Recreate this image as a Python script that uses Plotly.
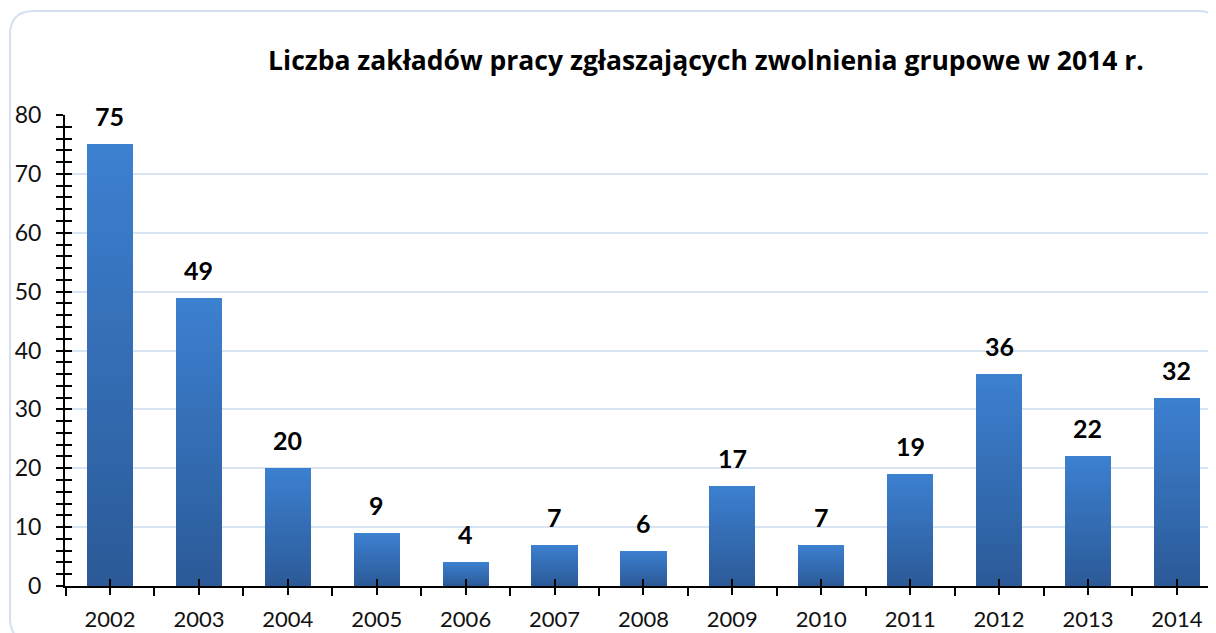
import plotly.graph_objects as go

# ---- data ----
years = ["2002", "2003", "2004", "2005", "2006", "2007", "2008",
         "2009", "2010", "2011", "2012", "2013", "2014"]
values = [75, 49, 20, 9, 4, 7, 6, 17, 7, 19, 36, 22, 32]
y_tick_vals = [0, 10, 20, 30, 40, 50, 60, 70, 80]
title_text = "Liczba zakładów pracy zgłaszających zwolnienia grupowe w 2014 r."

# ---- layout geometry (page body has an 8px margin, so figure is offset) ----
OFF = 8
W, H = 1216 - OFF, 633 - OFF
L, R, T = 65 - OFF, 0, 115 - OFF
B = H - (586 - OFF)
PW, PH = W - L - R, H - T - B
FONT = "Lato"

xpos = list(range(len(years)))
x_range = [-0.506, 12.44]
y_range = [0, 80]

top_rgb = (60, 128, 208)
bot_rgb = (44, 90, 152)

fig = go.Figure()

# gradient bars: stacked overlay layers, lighter on top, darker at bottom
N = 40
for k in range(N):
    f = (N - k) / N
    t = k / (N - 1)
    c = tuple(round(top_rgb[j] + (bot_rgb[j] - top_rgb[j]) * t) for j in range(3))
    fig.add_trace(go.Bar(
        x=xpos, y=[v * f for v in values], width=0.52,
        marker=dict(color="rgb(%d,%d,%d)" % c, line=dict(width=0)),
        hoverinfo="skip" if k else "y", showlegend=False,
    ))

# invisible trace for overlay axes (crossing tick marks)
fig.add_trace(go.Scatter(x=[0], y=[0], xaxis="x2", yaxis="y2", mode="markers",
                         marker=dict(opacity=0), hoverinfo="skip", showlegend=False))

annotations = []
for i, v in zip(xpos, values):
    annotations.append(dict(
        x=i, y=v, xref="x", yref="y", text="<b>%d</b>" % v, showarrow=False,
        yanchor="bottom", yshift=11, font=dict(family=FONT, size=25, color="#000000"),
    ))

# rounded frame (screen pixel coords -> paper coords)
def px(xp):
    return (xp - OFF - L) / PW

def py(yp):
    return (H - B - (yp - OFF)) / PH

fx0, fy0, fx1, fy1, rr = 10, 11, 1222, 642, 24
path = (
    "M %f,%f L %f,%f Q %f,%f %f,%f L %f,%f Q %f,%f %f,%f L %f,%f Q %f,%f %f,%f L %f,%f Q %f,%f %f,%f Z"
    % (
        px(fx0 + rr), py(fy0), px(fx1 - rr), py(fy0),
        px(fx1), py(fy0), px(fx1), py(fy0 + rr),
        px(fx1), py(fy1 - rr),
        px(fx1), py(fy1), px(fx1 - rr), py(fy1),
        px(fx0 + rr), py(fy1),
        px(fx0), py(fy1), px(fx0), py(fy1 - rr),
        px(fx0), py(fy0 + rr),
        px(fx0), py(fy0), px(fx0 + rr), py(fy0),
    )
)
shapes = [dict(type="path", xref="paper", yref="paper", path=path,
               line=dict(color="#d5e1f1", width=2), fillcolor="rgba(0,0,0,0)", layer="below")]

fig.update_layout(
    template="none",
    width=W, height=H,
    margin=dict(l=L, r=R, t=T, b=B, pad=0, autoexpand=False),
    paper_bgcolor="white", plot_bgcolor="white",
    barmode="overlay", bargap=0,
    font=dict(family=FONT, color="#111111"),
    title=dict(text="<b>%s</b>" % title_text, x=(706 - OFF) / W, xref="container",
               xanchor="center", y=1 - (61 - OFF) / H, yanchor="middle",
               font=dict(family="Open Sans", size=26.5, color="#000000")),
    annotations=annotations,
    shapes=shapes,
    xaxis=dict(
        range=x_range, tickmode="array", tickvals=xpos, ticktext=years,
        showgrid=False, zeroline=False, showline=True, linecolor="#000000", linewidth=2,
        ticks="outside", ticklen=7, tickwidth=2, tickcolor="#000000",
        minor=dict(tickmode="linear", tick0=0.5, dtick=1, ticks="outside", ticklen=8,
                   tickwidth=2, tickcolor="#000000", showgrid=False),
        tickfont=dict(family=FONT, size=22, color="#111111"),
        ticklabelstandoff=6, automargin=False, fixedrange=True,
    ),
    yaxis=dict(
        range=y_range, tickmode="array", tickvals=y_tick_vals,
        showgrid=True, gridcolor="#d9e4f3", gridwidth=2,
        zeroline=False, showline=True, linecolor="#000000", linewidth=2,
        ticks="outside", ticklen=7, tickwidth=2, tickcolor="#000000",
        minor=dict(tickmode="linear", tick0=0, dtick=2, ticks="outside", ticklen=7,
                   tickwidth=2, tickcolor="#000000", showgrid=False),
        tickfont=dict(family=FONT, size=23, color="#111111"),
        ticklabelstandoff=10, automargin=False, fixedrange=True,
    ),
    xaxis2=dict(
        range=x_range, overlaying="x", anchor="y2", side="bottom",
        tickmode="array", tickvals=xpos, showticklabels=False,
        ticks="inside", ticklen=7, tickwidth=2, tickcolor="#000000",
        showgrid=False, zeroline=False, showline=False, automargin=False, fixedrange=True,
    ),
    yaxis2=dict(
        range=y_range, overlaying="y", anchor="x2", side="left",
        tickmode="array", tickvals=y_tick_vals, showticklabels=False,
        ticks="inside", ticklen=7, tickwidth=2, tickcolor="#000000",
        minor=dict(tickmode="linear", tick0=0, dtick=2, ticks="inside", ticklen=7,
                   tickwidth=2, tickcolor="#000000", showgrid=False),
        showgrid=False, zeroline=False, showline=False, automargin=False, fixedrange=True,
    ),
)

fig.write_html("out.html")
